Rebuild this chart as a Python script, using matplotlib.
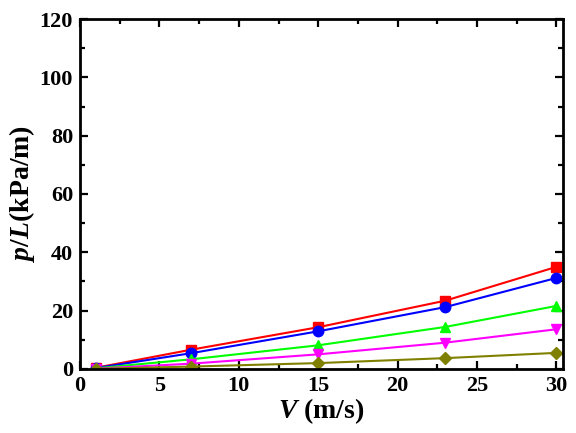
import matplotlib
matplotlib.use("Agg")
import matplotlib.pyplot as plt
from matplotlib.ticker import MultipleLocator

plt.rcParams["font.family"] = ["Liberation Serif", "DejaVu Serif"]
plt.rcParams["mathtext.fontset"] = "custom"
plt.rcParams["mathtext.it"] = "Liberation Serif:italic:bold"
plt.rcParams["mathtext.rm"] = "Liberation Serif:bold"

# velocity (m/s)
v = [1, 7, 15, 23, 30]

# pressure drop per length (kPa/m) for each series
red_sq = [0.4, 6.6, 14.3, 23.4, 35.0]
blue_circ = [0.3, 5.4, 12.9, 21.2, 31.2]
green_tri = [0.2, 3.3, 8.1, 14.4, 21.6]
magenta_tri = [0.1, 1.8, 5.0, 9.0, 13.6]
olive_dia = [0.05, 0.8, 2.0, 3.7, 5.5]

series = [
    (red_sq, "#ff0000", "s"),
    (blue_circ, "#0000ff", "o"),
    (green_tri, "#00ff00", "^"),
    (magenta_tri, "#ff00ff", "v"),
    (olive_dia, "#808000", "D"),
]

fig = plt.figure(figsize=(5.76, 4.33), dpi=100)
ax = fig.add_axes([0.139, 0.148, 0.838, 0.808])

for vals, col, mk in series:
    ms = 6.5 if mk == "D" else 7.5
    ax.plot(v, vals, color=col, lw=1.5, marker=mk, ms=ms, mec=col, mfc=col)

ax.set_xlim(0, 30.4)
ax.set_ylim(0, 120)
ax.xaxis.set_major_locator(MultipleLocator(5))
ax.xaxis.set_minor_locator(MultipleLocator(2.5))
ax.yaxis.set_major_locator(MultipleLocator(20))
ax.yaxis.set_minor_locator(MultipleLocator(10))

ax.tick_params(which="both", direction="in", top=True, right=True, width=1.6)
ax.tick_params(which="major", length=6, labelsize=16, pad=5)
ax.tick_params(which="minor", length=3.5)
for lab in ax.get_xticklabels() + ax.get_yticklabels():
    lab.set_fontweight("bold")
for s in ax.spines.values():
    s.set_linewidth(2)

ax.set_xlabel(r"$V$ (m/s)", fontsize=20, fontweight="bold", labelpad=0)
ax.set_ylabel(r"$p$/$L$(kPa/m)", fontsize=20, fontweight="bold", labelpad=2)

fig.savefig("out.png", dpi=100)
